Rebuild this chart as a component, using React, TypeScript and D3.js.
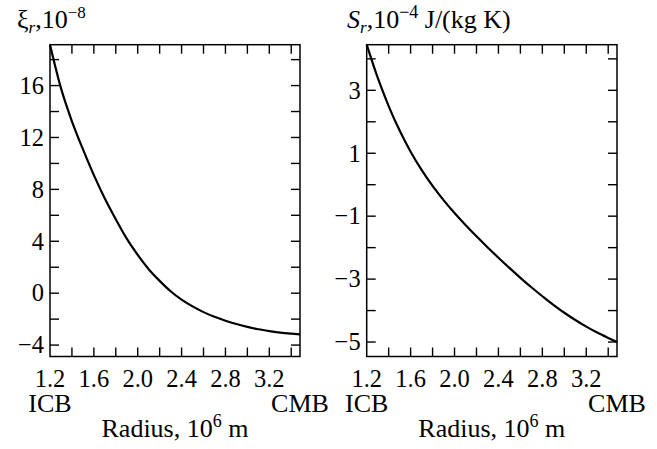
import React from 'react';
import * as d3 from 'd3';

// radius, 10^6 m (ICB ~1.2, CMB ~3.48)
const radius = [1.2, 1.3, 1.4, 1.5, 1.6, 1.7, 1.8, 1.9, 2.0, 2.1, 2.2, 2.3, 2.4, 2.5, 2.6, 2.7, 2.8, 2.9, 3.0, 3.1, 3.2, 3.3, 3.4, 3.48];
// xi_r, 10^-8
const xiValues = [19.15, 15.8, 13.25, 11.1, 9.1, 7.3, 5.7, 4.2, 2.95, 1.85, 0.95, 0.15, -0.5, -1.02, -1.46, -1.82, -2.12, -2.38, -2.6, -2.78, -2.92, -3.04, -3.12, -3.17];
// S_r, 10^-4 J/(kg K)
const entropyValues = [4.45, 3.4, 2.5, 1.72, 1.05, 0.47, -0.04, -0.49, -0.9, -1.28, -1.64, -1.985, -2.32, -2.645, -2.96, -3.26, -3.545, -3.82, -4.07, -4.3, -4.51, -4.7, -4.87, -5.0];

const radiusTicks = [1.4, 1.6, 1.8, 2.0, 2.2, 2.4, 2.6, 2.8, 3.0, 3.2, 3.4];
const radiusLabels = [1.2, 1.6, 2.0, 2.4, 2.8, 3.2];
const xiTicks = [-4, -2, 0, 2, 4, 6, 8, 10, 12, 14, 16, 18];
const xiLabels = [-4, 0, 4, 8, 12, 16];
const entropyTicks = [-5, -4, -3, -2, -1, 0, 1, 2, 3, 4];
const entropyLabels = [-5, -3, -1, 1, 3];

const FONT = '"Liberation Serif", "Times New Roman", serif';
const FS = 26;
const TICK_FS = 24.5;
const SMALL = 17;
const TICK = 9;
const top = 44.7;
const bottom = 356.5;

function Panel({ left, right, values, yDomain, yTicks, yLabels, title }) {
  const x = d3.scaleLinear().domain([1.2, 3.48]).range([left, right]);
  const y = d3.scaleLinear().domain(yDomain).range([bottom, top]);
  const line = d3
    .line()
    .x((d, i) => x(radius[i]))
    .y((d) => y(d))
    .curve(d3.curveMonotoneX);
  const fmtX = d3.format('.1f');
  const fmtY = d3.format('d');
  const mid = (left + right) / 2;

  return (
    <g fontFamily={FONT} fill="#000">
      {title}
      <rect x={left} y={top} width={right - left} height={bottom - top} fill="none" stroke="#000" strokeWidth={1.5} />
      {radiusTicks.map((t) => (
        <g key={'x' + t} stroke="#000" strokeWidth={1.4}>
          <line x1={x(t)} x2={x(t)} y1={bottom} y2={bottom - TICK} />
          <line x1={x(t)} x2={x(t)} y1={top} y2={top + TICK} />
        </g>
      ))}
      {yTicks.map((t) => (
        <g key={'y' + t} stroke="#000" strokeWidth={1.4}>
          <line x1={left} x2={left + TICK} y1={y(t)} y2={y(t)} />
          <line x1={right} x2={right - TICK} y1={y(t)} y2={y(t)} />
        </g>
      ))}
      {radiusLabels.map((t) => (
        <text key={'xl' + t} x={x(t)} y={386.5} fontSize={TICK_FS} textAnchor="middle">
          {fmtX(t)}
        </text>
      ))}
      {yLabels.map((t) => (
        <text key={'yl' + t} x={left - 6} y={y(t) + 8.3} fontSize={TICK_FS} textAnchor="end">
          {fmtY(t)}
        </text>
      ))}
      <text x={left} y={412} fontSize={FS} textAnchor="middle">ICB</text>
      <text x={right} y={412} fontSize={FS} textAnchor="middle">CMB</text>
      <text x={mid} y={437} fontSize={FS} textAnchor="middle">
        Radius, 10<tspan fontSize={SMALL + 1} dy={-10}>6</tspan>
        <tspan dy={10}> m</tspan>
      </text>
      <path d={line(values)} fill="none" stroke="#000" strokeWidth={2.2} />
    </g>
  );
}

export default function App() {
  const xiTitle = (
    <text x={17} y={28} fontSize={FS}>
      ξ<tspan fontSize={SMALL} fontStyle="italic" dy={5}>r</tspan>
      <tspan dy={-5}>,10</tspan>
      <tspan fontSize={SMALL} dy={-10}>−8</tspan>
    </text>
  );
  const sTitle = (
    <text x={347} y={28} fontSize={FS}>
      <tspan fontStyle="italic">S</tspan>
      <tspan fontSize={SMALL} fontStyle="italic" dy={5}>r</tspan>
      <tspan dy={-5}>,10</tspan>
      <tspan fontSize={SMALL + 1} dy={-10}>−4</tspan>
      <tspan dy={10}> J/(kg K)</tspan>
    </text>
  );
  return (
    <svg width={657} height={449} style={{ position: 'absolute', left: 0, top: 0, background: '#fff' }}>
      <Panel
        left={50}
        right={300}
        values={xiValues}
        yDomain={[-4.88, 19.15]}
        yTicks={xiTicks}
        yLabels={xiLabels}
        title={xiTitle}
      />
      <Panel
        left={366.7}
        right={617}
        values={entropyValues}
        yDomain={[-5.46, 4.45]}
        yTicks={entropyTicks}
        yLabels={entropyLabels}
        title={sTitle}
      />
    </svg>
  );
}
